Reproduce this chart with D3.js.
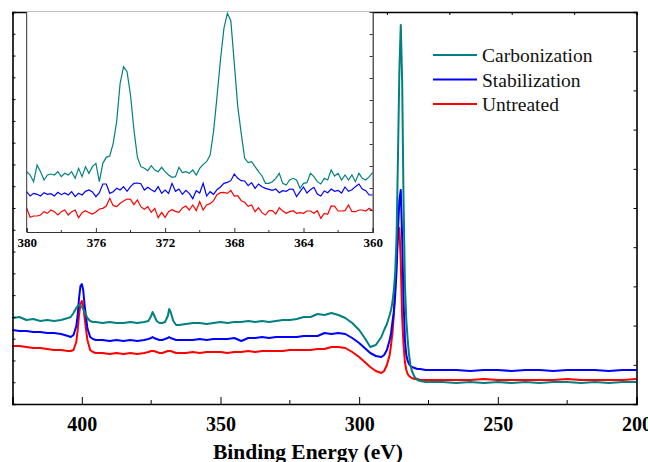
<!DOCTYPE html>
<html>
<head>
<meta charset="utf-8">
<script src="https://cdnjs.cloudflare.com/ajax/libs/d3/7.8.5/d3.min.js"></script>
<style>
  body { margin: 0; background: #fff; }
</style>
</head>
<body>
<div id="chart"></div>
<script>
// survey spectrum, binding energy (eV)
var energy = [425, 422.5, 420, 417.5, 415, 412.5, 410, 407.5, 405,
    404, 403, 402, 401.5, 401, 400.5, 400, 399.5, 399, 398, 397, 396, 395,
    392.5, 390, 387.5, 385, 382.5, 380, 377.5,
    376, 375, 374.5, 374, 373, 372, 371, 370, 369, 368.5, 368, 367, 366, 365,
    362.5, 360, 357.5, 355, 352.5, 350, 347.5, 345, 342.5, 340, 337.5, 335, 332.5, 330,
    327.5, 325, 322.5, 320, 317.5, 315, 312.5, 310, 307.5, 305, 302.5, 300,
    298, 296, 294, 292, 291, 290, 289,
    288.5, 288, 287.5, 287, 286.5, 286, 285.5, 285, 284.5, 284, 283.5, 283, 282.5, 282, 281.5, 281,
    280, 279, 278, 276, 274,
    270, 265, 260, 255, 250, 245, 240, 235, 230, 225, 220, 215, 210, 205, 200];

// intensities (a.u.)
var carbonization = [86, 87, 84, 85, 83, 84, 83, 84, 86,
    87, 91, 96, 98, 99, 98, 97, 95, 92, 86, 83, 82, 82,
    81, 82, 81, 81, 82, 81, 82,
    83, 88, 92, 89, 83, 81, 81, 82, 88, 95, 92, 83, 79, 79,
    80, 81, 81, 80, 81, 82, 81, 82, 82, 83, 82, 83, 82, 83,
    84, 84, 85, 87, 87, 90, 89, 91, 89, 86, 81, 74,
    66, 57, 59, 67, 74, 80, 89,
    94, 102, 114, 132, 169, 249, 334, 379, 324, 204, 119, 84, 64, 49, 39, 33,
    27, 24, 23, 22, 22,
    22, 21, 22, 21, 22, 21, 22, 21, 22, 22, 21, 22, 21, 22, 22];

var stabilization = [74, 73, 73, 72, 72, 71, 71, 70, 68,
    67, 69, 78, 89, 106, 118, 120, 114, 99, 76, 67, 65, 64,
    64, 63, 64, 63, 64, 63, 64,
    65, 66, 67, 66, 65, 64, 64, 65, 66, 67, 66, 65, 64, 64,
    64, 64, 65, 64, 65, 65, 65, 66, 63, 66, 66, 67, 66, 67,
    67, 67, 67, 68, 68, 68, 71, 70, 71, 70, 66, 61,
    56, 51, 48, 47, 49, 54, 64,
    71, 82, 92, 109, 134, 174, 204, 214, 166, 104, 64, 49, 43, 40, 38, 37,
    36, 35, 35, 34, 34,
    34, 34, 33, 34, 34, 33, 34, 34, 33, 34, 34, 34, 33, 34, 34];

var untreated = [58, 58, 57, 56, 56, 55, 54, 54, 53,
    53, 54, 62, 74, 89, 100, 103, 98, 86, 64, 54, 52, 51,
    51, 50, 51, 50, 51, 50, 51,
    52, 53, 53, 53, 52, 51, 51, 52, 53, 53, 53, 52, 51, 51,
    51, 52, 51, 52, 52, 52, 51, 52, 52, 53, 52, 53, 53, 53,
    53, 54, 54, 54, 54, 55, 55, 57, 57, 56, 52, 47,
    42, 37, 33, 31, 33, 39, 49,
    59, 71, 89, 119, 149, 169, 176, 142, 86, 59, 42, 34, 30, 28, 27, 26,
    25, 25, 24, 24, 24,
    24, 24, 24, 25, 24, 24, 24, 24, 24, 25, 24, 24, 24, 24, 25];

// inset, 380-360 eV
var insetEnergy = [380, 379.8, 379.6, 379.4, 379.2, 379, 378.8, 378.6, 378.4, 378.2,
    378, 377.8, 377.6, 377.4, 377.2, 377, 376.8, 376.6, 376.4, 376.2,
    376, 375.8, 375.6, 375.4, 375.2, 375, 374.8, 374.6, 374.4, 374.2,
    374, 373.8, 373.6, 373.4, 373.2, 373, 372.8, 372.6, 372.4, 372.2,
    372, 371.8, 371.6, 371.4, 371.2, 371, 370.8, 370.6, 370.4, 370.2,
    370, 369.8, 369.6, 369.4, 369.2, 369, 368.8, 368.6, 368.4, 368.2,
    368, 367.8, 367.6, 367.4, 367.2, 367, 366.8, 366.6, 366.4, 366.2,
    366, 365.8, 365.6, 365.4, 365.2, 365, 364.8, 364.6, 364.4, 364.2,
    364, 363.8, 363.6, 363.4, 363.2, 363, 362.8, 362.6, 362.4, 362.2,
    362, 361.8, 361.6, 361.4, 361.2, 361, 360.8, 360.6, 360.4, 360.2, 360];

var insetCarbonization = [181, 171, 151, 201, 181, 156, 171, 174, 171, 181,
    166, 176, 171, 181, 161, 191, 166, 196, 176, 196,
    206, 151, 206, 224, 228, 266, 331, 446, 496, 481,
    411, 306, 224, 196, 191, 184, 199, 186, 181, 194,
    181, 171, 164, 166, 194, 178, 181, 176, 186, 171,
    191, 203, 211, 230, 301, 406, 516, 611, 656, 634,
    506, 376, 296, 221, 208, 211, 196, 181, 168, 146,
    146, 151, 161, 176, 146, 141, 156, 161, 156, 131,
    146, 148, 176, 166, 151, 144, 161, 156, 186, 168,
    176, 156, 171, 156, 171, 151, 176, 161, 156, 166, 178];

var insetStabilization = [121, 108, 116, 113, 108, 118, 113, 115, 108, 119,
    112, 117, 111, 121, 106, 116, 111, 122, 126, 120,
    106, 118, 144, 144, 116, 121, 131, 126, 136, 122,
    136, 146, 147, 145, 126, 134, 127, 121, 136, 116,
    126, 116, 146, 122, 129, 113, 125, 116, 100, 124,
    117, 146, 108, 121, 113, 127, 135, 146, 149, 154,
    174, 161, 154, 153, 139, 148, 131, 144, 136, 131,
    128, 125, 129, 118, 124, 122, 129, 128, 106, 121,
    135, 117, 127, 134, 114, 108, 123, 118, 129, 122,
    125, 117, 135, 122, 127, 136, 144, 129, 124, 111, 111];

var insetUntreated = [71, 44, 48, 48, 51, 61, 56, 66, 61, 51,
    61, 66, 51, 61, 66, 43, 58, 64, 58, 54,
    60, 69, 71, 78, 101, 79, 76, 86, 93, 99,
    98, 82, 96, 76, 68, 76, 59, 71, 43, 59,
    44, 61, 67, 62, 59, 72, 78, 66, 81, 64,
    91, 66, 81, 85, 94, 112, 118, 119, 116, 125,
    108, 109, 94, 89, 77, 81, 61, 73, 58, 51,
    64, 64, 54, 73, 63, 56, 61, 64, 56, 58,
    56, 63, 63, 56, 64, 41, 56, 53, 78, 77,
    63, 63, 64, 81, 61, 61, 66, 66, 63, 71, 64];

var seriesNames = ["Carbonization", "Stabilization", "Untreated"];
var seriesColors = ["#008080", "#0000ff", "#ff0000"];
var xTicksMajor = [400, 350, 300, 250, 200];
var xTicksMinor = [375, 325, 275, 225];
var insetTicksMajor = [380, 376, 372, 368, 364, 360];
var insetTicksMinor = [378, 374, 370, 366, 362];

var serif = "Liberation Serif";
var W = 648, H = 462;
var plot = { left: 12.5, right: 636.5, top: 12, bottom: 404 };
var inset = { left: 26.7, right: 372.7, top: 12, bottom: 232 };

var svg = d3.select("#chart").append("svg")
    .attr("width", W)
    .attr("height", H);

var x = d3.scaleLinear().domain([425, 200]).range([plot.left, plot.right]);
var y = d3.scaleLinear().domain([0, 392]).range([plot.bottom, plot.top]);

var line = d3.line()
    .x(function (d) { return x(d.e); })
    .y(function (d) { return y(d.v); });

function pairs(es, vs) {
    return es.map(function (e, i) { return { e: e, v: vs[i] }; });
}

var mainData = [
    { name: "Untreated", color: seriesColors[2], val: pairs(energy, untreated) },
    { name: "Stabilization", color: seriesColors[1], val: pairs(energy, stabilization) },
    { name: "Carbonization", color: seriesColors[0], val: pairs(energy, carbonization) }
];

svg.append("g").selectAll("path")
    .data(mainData)
    .enter().append("path")
    .attr("d", function (d) { return line(d.val); })
    .attr("fill", "none")
    .attr("stroke", function (d) { return d.color; })
    .attr("stroke-width", 2)
    .attr("stroke-linejoin", "round");

// bottom axis, major + minor inward ticks
var gx = svg.append("g").attr("transform", "translate(0," + plot.bottom + ")");
gx.call(d3.axisBottom(x).tickValues(xTicksMajor).tickSize(-7).tickFormat(d3.format("d")));
gx.selectAll(".tick text")
    .attr("y", 13)
    .attr("dy", "0.71em")
    .style("font-family", serif)
    .style("font-weight", "bold")
    .style("font-size", "20px");
gx.append("g").selectAll("line")
    .data(xTicksMinor)
    .enter().append("line")
    .attr("x1", function (d) { return x(d); })
    .attr("x2", function (d) { return x(d); })
    .attr("y1", 0).attr("y2", -4)
    .attr("stroke", "#000");

// left axis, no labels
var gy = svg.append("g").attr("transform", "translate(" + plot.left + ",0)");
gy.call(d3.axisLeft(y).tickValues(d3.range(19).map(function (i) { return i * 392 / 18; }))
    .tickSize(-3).tickFormat(""));

// top and right axes from the second layer (10 divisions)
var x2 = d3.scaleLinear().domain([0, 10]).range([plot.left, plot.right]);
var y2 = d3.scaleLinear().domain([0, 10]).range([plot.bottom, plot.top]);
svg.append("g").attr("transform", "translate(0," + plot.top + ")")
    .call(d3.axisTop(x2).ticks(10).tickSize(-3).tickFormat(""));
svg.append("g").attr("transform", "translate(" + plot.right + ",0)")
    .call(d3.axisRight(y2).ticks(10).tickSize(-3).tickFormat(""));

svg.selectAll(".domain").attr("stroke", "#000").attr("stroke-width", 1.6);
svg.selectAll(".tick line").attr("stroke", "#000");

svg.append("text")
    .attr("x", 308)
    .attr("y", 459)
    .attr("text-anchor", "middle")
    .style("font-family", serif)
    .style("font-weight", "bold")
    .style("font-size", "21.5px")
    .text("Binding Energy (eV)");

// legend
var legend = svg.append("g").selectAll("g")
    .data(seriesNames)
    .enter().append("g")
    .attr("transform", function (d, i) { return "translate(433," + (55 + i * 24.5) + ")"; });
legend.append("line")
    .attr("x1", 0).attr("x2", 44)
    .attr("stroke", function (d, i) { return seriesColors[i]; })
    .attr("stroke-width", 2);
legend.append("text")
    .attr("x", 49)
    .attr("y", 7)
    .style("font-family", serif)
    .style("font-size", "19.5px")
    .attr("fill", "#111")
    .text(function (d) { return d; });

// inset
var xi = d3.scaleLinear().domain([380, 360]).range([inset.left, inset.right]);
var yi = d3.scaleLinear().domain([0, 660]).range([inset.bottom, inset.top]);
var lineInset = d3.line()
    .x(function (d) { return xi(d.e); })
    .y(function (d) { return yi(d.v); });

var gi = svg.append("g");
gi.append("rect")
    .attr("x", inset.left).attr("y", inset.top)
    .attr("width", inset.right - inset.left)
    .attr("height", inset.bottom - inset.top)
    .attr("fill", "#fff");

var insetData = [
    { color: seriesColors[2], val: pairs(insetEnergy, insetUntreated) },
    { color: seriesColors[1], val: pairs(insetEnergy, insetStabilization) },
    { color: seriesColors[0], val: pairs(insetEnergy, insetCarbonization) }
];
gi.selectAll(".iline")
    .data(insetData)
    .enter().append("path")
    .attr("class", "iline")
    .attr("d", function (d) { return lineInset(d.val); })
    .attr("fill", "none")
    .attr("stroke", function (d) { return d.color; })
    .attr("stroke-width", 1.2);

var gix = gi.append("g").attr("transform", "translate(0," + inset.bottom + ")");
gix.call(d3.axisBottom(xi).tickValues(insetTicksMajor).tickSize(-4).tickFormat(d3.format("d")));
gix.selectAll(".tick text")
    .attr("y", 6)
    .style("font-family", serif)
    .style("font-weight", "bold")
    .style("font-size", "13px");
gix.append("g").selectAll("line")
    .data(insetTicksMinor)
    .enter().append("line")
    .attr("x1", function (d) { return xi(d); })
    .attr("x2", function (d) { return xi(d); })
    .attr("y1", 0).attr("y2", -2)
    .attr("stroke", "#333");

var yi2 = d3.scaleLinear().domain([0, 10]).range([inset.bottom, inset.top]);
gi.append("g").attr("transform", "translate(" + inset.right + ",0)")
    .call(d3.axisRight(yi2).ticks(10).tickSize(-3).tickFormat(""));
gi.append("line")
    .attr("x1", inset.left).attr("x2", inset.left)
    .attr("y1", inset.top).attr("y2", inset.bottom)
    .attr("stroke", "#333");
gi.selectAll(".domain").attr("stroke", "#333").attr("stroke-width", 1.2);
gi.selectAll(".tick line").attr("stroke", "#333");
</script>
</body>
</html>
